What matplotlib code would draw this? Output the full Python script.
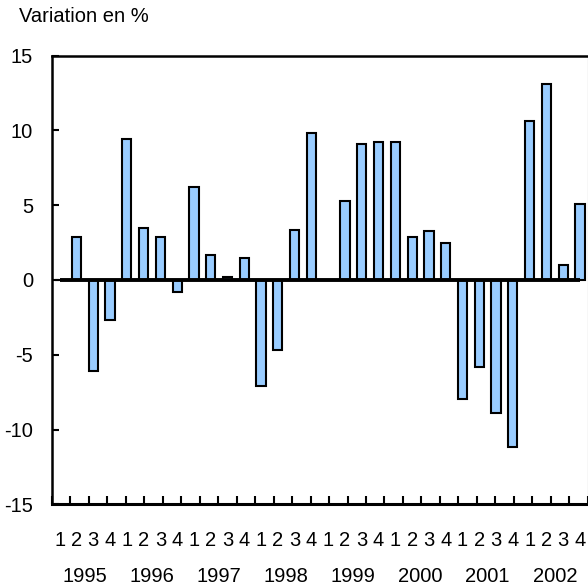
import matplotlib
matplotlib.use("Agg")
import matplotlib.pyplot as plt
import matplotlib.transforms as mtransforms
import numpy as np

plt.rcParams["font.family"] = ["Liberation Sans", "DejaVu Sans"]

# Quarterly variation (%) 1995Q1 .. 2002Q4
years = ["1995", "1996", "1997", "1998", "1999", "2000", "2001", "2002"]
quarters = ["1", "2", "3", "4"]
values = [
    0.0, 2.9, -6.1, -2.7,      # 1995
    9.4, 3.5, 2.9, -0.8,       # 1996
    6.2, 1.7, 0.2, 1.45,       # 1997
    -7.1, -4.7, 3.35, 9.8,     # 1998
    0.0, 5.3, 9.1, 9.2,        # 1999
    9.2, 2.9, 3.27, 2.5,       # 2000
    -7.95, -5.8, -8.9, -11.2,  # 2001
    10.6, 13.1, 1.0, 5.07,     # 2002
]
y_label = "Variation en %"
FS = 14.5

fig = plt.figure(figsize=(5.88, 5.86), dpi=100)
ax = fig.add_axes([0.0884, 0.1394, 0.9111, 0.7656])

x = np.arange(len(values))
ax.bar(x, values, width=0.55, color="#99ccff", edgecolor="black",
       linewidth=1.5, zorder=2)
ax.hlines(0, x[0], x[-1], color="black", lw=2.8, zorder=3)

xmin, xmax = -0.46, len(values) - 1 + 0.46
ax.set_xlim(xmin, xmax)
ax.set_ylim(-15, 15)
ax.set_yticks(np.arange(-15, 16, 5))
ax.set_yticklabels([str(v) for v in range(-15, 16, 5)])

# quarter labels (no visible tick), tick marks on an independent grid
ax.set_xticks(x)
ax.set_xticklabels([quarters[i % 4] for i in x])
ax.set_xticks(np.linspace(xmin, xmax, 30), minor=True)
ax.tick_params(axis="x", which="major", length=0, pad=19.5, labelsize=FS)
ax.tick_params(axis="x", which="minor", direction="in", length=5.5,
               width=1.5, color="black")
ax.tick_params(axis="y", direction="in", length=5, width=1.5,
               pad=13.5, labelsize=FS)

trans = mtransforms.blended_transform_factory(ax.transData, ax.transAxes)
for k, yr in enumerate(years):
    ax.text(4 * k + 1.5, -0.162, yr, transform=trans, ha="center",
            va="center", fontsize=FS)

ax.spines["left"].set_linewidth(1.8)
ax.spines["top"].set_linewidth(1.8)
ax.spines["bottom"].set_linewidth(2.2)
ax.spines["right"].set_linewidth(0.8)
ax.spines["right"].set_color("#777777")

fig.text(19 / 588, 1 - 17 / 586, y_label, ha="left", va="center",
         fontsize=FS)

fig.savefig("out.png", dpi=100)
